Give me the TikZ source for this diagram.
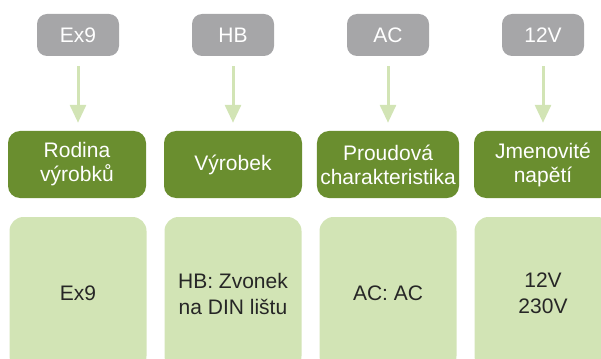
\documentclass[tikz,border=0pt]{standalone}
\usepackage{fontspec}
\setmainfont{Liberation Sans}
\usetikzlibrary{arrows.meta}

\definecolor{codegray}{HTML}{A6A6A8}
\definecolor{headgreen}{HTML}{6A8E2F}
\definecolor{valgreen}{HTML}{D2E4B5}
\definecolor{valtext}{HTML}{262626}

\tikzset{
  codebox/.style={fill=codegray,rounded corners=10pt,minimum width=82pt,minimum height=42pt,
    text=white,font=\fontsize{21}{24}\selectfont},
  headbox/.style={fill=headgreen,rounded corners=12pt,minimum width=138pt,minimum height=67pt,
    text=white,align=center,font=\fontsize{21}{24}\selectfont},
  valbox/.style={fill=valgreen,rounded corners=14pt,minimum width=137pt,minimum height=153pt,
    text=valtext,align=center,font=\fontsize{21}{26}\selectfont},
  feed/.style={draw=valgreen,line width=3pt,-{Triangle[width=16pt,length=18pt]},
    shorten <=10pt,shorten >=8pt}
}

\begin{document}
\begin{tikzpicture}[x=1pt,y=-1pt]
                \useasboundingbox (0,0) rectangle (601,358);
                \clip (0,0) rectangle (601,358);
                % top codes
                \node[codebox] (code1) at (78,35) {Ex9};
                \node[codebox] (code2) at (233,35) {HB};
                \node[codebox] (code3) at (388,35) {AC};
                \node[codebox] (code4) at (543,35) {12V};
                % headings
                \node[headbox] (head1) at (77,164.5) {Rodina\\výrobků};
                \node[headbox] (head2) at (233,164.5) {Výrobek};
                \node[headbox] (head3) at (388,164.5) {Proudová\\charakteristika};
                \node[headbox] (head4) at (543,164.5) {Jmenovité\\napětí};
                % values
                \node[valbox] (val1) at (78,293.5) {Ex9};
                \node[valbox] (val2) at (233,293.5) {HB: Zvonek\\na DIN lištu};
                \node[valbox] (val3) at (388,293.5) {AC: AC};
                \node[valbox] (val4) at (543,293.5) {12V\\230V};
                \draw[feed] (code1) -- (code1 |- head1.north);
                \draw[feed] (code2) -- (code2 |- head2.north);
                \draw[feed] (code3) -- (code3 |- head3.north);
                \draw[feed] (code4) -- (code4 |- head4.north);
            \end{tikzpicture}
\end{document}
